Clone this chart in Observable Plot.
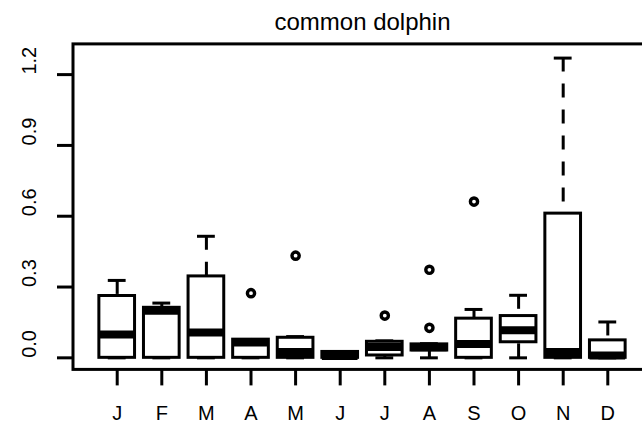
<!DOCTYPE html>
<html>
<head>
<meta charset="utf-8">
<script src="https://cdn.jsdelivr.net/npm/d3@7"></script>
<script src="https://cdn.jsdelivr.net/npm/@observablehq/plot@0.6"></script>
<style>
  html, body { margin: 0; padding: 0; background: white; overflow: hidden; }
  #chart svg { display: block; overflow: hidden; }
</style>
</head>
<body>
<div id="chart"></div>
<script>
// ---- data ----
const title = "common dolphin";
const months = ["J","F","M","A","M","J","J","A","S","O","N","D"];
const whiskerLow  = [0, 0, 0, 0, 0, 0, 0, 0, 0, 0, 0, 0];
const q1          = [0, 0, 0, 0, 0, 0, 0.010, 0.031, 0, 0.066, 0, 0];
const median      = [0.099, 0.200, 0.107, 0.065, 0.025, 0.008, 0.046, 0.045, 0.059, 0.117, 0.025, 0.010];
const q3          = [0.262, 0.212, 0.345, 0.077, 0.085, 0.025, 0.068, 0.057, 0.166, 0.177, 0.611, 0.074];
const whiskerHigh = [0.328, 0.232, 0.515, 0.077, 0.090, 0.025, 0.072, 0.060, 0.205, 0.265, 1.270, 0.152];
const outlierMonth = [4, 5, 7, 8, 8, 9];
const outlierValue = [0.274, 0.433, 0.179, 0.127, 0.373, 0.662];
const yTicks = [0, 0.3, 0.6, 0.9, 1.2];
const xTicks = [1,2,3,4,5,6,7,8,9,10,11,12];

// axis limits (R style: range extended by 4%)
const xLim = [0.02, 12.98];
const yLim = [-0.0511, 1.328];

const idx = months.map((_, i) => i);
const halfBox = 0.4, halfCap = 0.2;
const font = "'Liberation Sans', Arial, Helvetica, sans-serif";

const chart = Plot.plot({
  width: 642,
  height: 427,
  marginLeft: 73,
  marginRight: 0,
  marginTop: 43.9,
  marginBottom: 57.6,
  style: { fontFamily: font, background: "white", color: "black" },
  x: { type: "linear", domain: xLim, range: [73, 651], axis: null },
  y: { type: "linear", domain: yLim, axis: null },
  marks: [
    // whiskers (dashed, drawn from the extreme toward the hinge)
    Plot.ruleX(idx, { x: i => i + 1, y1: i => whiskerHigh[i], y2: i => q3[i],
      stroke: "black", strokeWidth: 3, strokeDasharray: "14,12" }),
    Plot.ruleX(idx, { x: i => i + 1, y1: i => whiskerLow[i], y2: i => q1[i],
      stroke: "black", strokeWidth: 3, strokeDasharray: "14,12" }),
    // staples
    Plot.ruleY(idx, { y: i => whiskerHigh[i], x1: i => i + 1 - halfCap, x2: i => i + 1 + halfCap,
      stroke: "black", strokeWidth: 3 }),
    Plot.ruleY(idx, { y: i => whiskerLow[i], x1: i => i + 1 - halfCap, x2: i => i + 1 + halfCap,
      stroke: "black", strokeWidth: 3 }),
    // boxes
    Plot.rect(idx, { x1: i => i + 1 - halfBox, x2: i => i + 1 + halfBox, y1: i => q1[i], y2: i => q3[i],
      fill: "white", stroke: "black", strokeWidth: 3 }),
    // medians
    Plot.ruleY(idx, { y: i => median[i], x1: i => i + 1 - halfBox, x2: i => i + 1 + halfBox,
      stroke: "black", strokeWidth: 8 }),
    // outliers
    Plot.dot(outlierValue, { x: (d, i) => outlierMonth[i], y: d => d, r: 3.6,
      stroke: "black", strokeWidth: 3.4, fill: "none" }),
    // plot frame
    Plot.rect([0], { x1: () => xLim[0], x2: () => xLim[1], y1: () => yLim[0], y2: () => yLim[1],
      fill: "none", stroke: "black", strokeWidth: 3 }),
    // axes ticks
    Plot.axisX(xTicks, { anchor: "bottom", tickSize: 16, strokeWidth: 3, tickFormat: () => "", label: null }),
    Plot.axisY(yTicks, { anchor: "left", tickSize: 16, strokeWidth: 3, tickFormat: () => "", label: null }),
    // axis labels
    Plot.text(xTicks, { x: d => d, text: d => months[d - 1], frameAnchor: "bottom", dy: 44,
      fontSize: 20, fill: "black", lineAnchor: "middle" }),
    Plot.text(yTicks, { y: d => d, text: d => d3.format(".1f")(d), frameAnchor: "left", dx: -44,
      rotate: -90, fontSize: 20, fill: "black", lineAnchor: "middle" }),
    // title
    Plot.text([title], { x: () => (xLim[0] + xLim[1]) / 2, text: d => d, frameAnchor: "top", dy: -22,
      fontSize: 24, fill: "black", lineAnchor: "middle", letterSpacing: "0.8px" })
  ]
});
document.getElementById("chart").appendChild(chart);
</script>
</body>
</html>
